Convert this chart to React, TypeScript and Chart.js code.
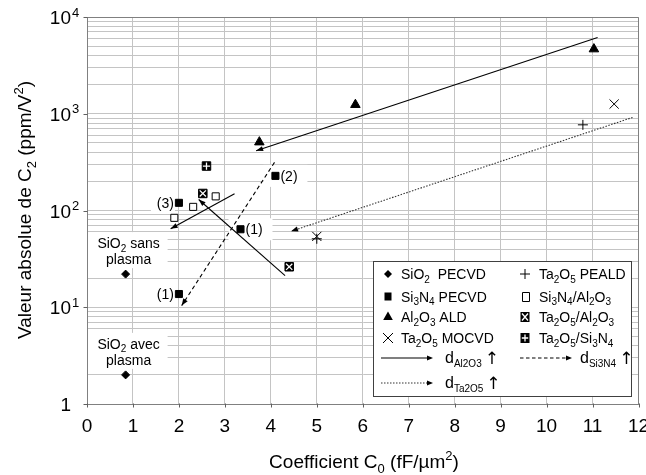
import React, { useEffect, useRef } from 'react';
import { Chart, registerables } from 'chart.js';

Chart.register(...registerables);

const FONT = '"Liberation Sans", Arial, Helvetica, "DejaVu Sans", sans-serif';

// ---- axis ticks ----
const xTicks = [0, 1, 2, 3, 4, 5, 6, 7, 8, 9, 10, 11, 12];
const yDecades = [1, 10, 100, 1000, 10000];
const yDecadeExp = ['', '1', '2', '3', '4'];
const yMinorMultipliers = [1, 2, 3, 4, 5, 6, 7, 8, 9];

// ---- series: C0 (fF/µm²) vs |C2| (ppm/V²) ----
const sio2PecvdC0 = [0.84, 0.84];
const sio2PecvdC2 = [22, 2.0];
const sio2Notes = [['SiO|2| sans', 'plasma'], ['SiO|2| avec', 'plasma']];

const si3n4PecvdC0 = [2.0, 2.0, 3.34, 4.1];
const si3n4PecvdC2 = [120, 13.7, 64, 228];
const si3n4Notes = ['(3)', '(1)', '(1)', '(2)'];
const si3n4NoteSide = ['left', 'left', 'right', 'right'];

const al2o3AldC0 = [3.75, 5.84, 11.03];
const al2o3AldC2 = [509, 1240, 4660];

const ta2o5MocvdC0 = [5.0, 11.47];
const ta2o5MocvdC2 = [54, 1260];

const ta2o5PealdC0 = [5.0, 10.79];
const ta2o5PealdC2 = [51, 768];

const si3n4Al2o3C0 = [1.9, 2.31, 2.8];
const si3n4Al2o3C2 = [84, 109, 140];

const ta2o5Al2o3C0 = [2.52, 4.4];
const ta2o5Al2o3C2 = [150, 26.2];

const ta2o5Si3n4C0 = [2.6];
const ta2o5Si3n4C2 = [288];

// ---- trend arrows (start -> tip) ----
const dAl2o3C0 = [[11.11, 3.68], [3.21, 1.82], [4.31, 2.43]];
const dAl2o3C2 = [[6140, 414], [149, 64.7], [21.2, 130]];
const dSi3n4C0 = [4.08, 2.06];
const dSi3n4C2 = [314, 10.4];
const dTa2o5C0 = [11.87, 4.44];
const dTa2o5C2 = [916, 61];

type Seg = { t: string; m: 'n' | 'b' | 'p'; s?: number };

// "A|2|B" -> odd pieces are subscripts
function parseSub(str: string): Seg[] {
  return str
    .split('|')
    .map((p, i) => ({ t: p, m: i % 2 === 1 ? 'b' : 'n' } as Seg))
    .filter((s) => s.t.length > 0);
}

function drawRich(ctx: CanvasRenderingContext2D, segs: Seg[], x: number, y: number, size: number, align: 'left' | 'center' | 'right') {
  const parts = segs.map((seg) => {
    const fs = seg.s ?? (seg.m === 'n' ? size : Math.round(size * 0.68));
    ctx.font = `${fs}px ${FONT}`;
    return { ...seg, fs, w: ctx.measureText(seg.t).width };
  });
  const total = parts.reduce((a, p) => a + p.w, 0);
  let cx = align === 'left' ? x : align === 'center' ? x - total / 2 : x - total;
  const start = cx;
  ctx.textAlign = 'left';
  ctx.textBaseline = 'alphabetic';
  for (const p of parts) {
    ctx.font = `${p.fs}px ${FONT}`;
    const dy = p.m === 'b' ? size * 0.25 : p.m === 'p' ? -size * 0.4 : 0;
    ctx.fillText(p.t, cx, y + dy);
    cx += p.w;
  }
  return { left: start, right: start + total, width: total };
}

function arrowHead(ctx: CanvasRenderingContext2D, x1: number, y1: number, x2: number, y2: number, len = 7, half = 2.6) {
  const a = Math.atan2(y2 - y1, x2 - x1);
  ctx.save();
  ctx.setLineDash([]);
  ctx.fillStyle = '#000';
  ctx.beginPath();
  ctx.moveTo(x2, y2);
  ctx.lineTo(x2 - len * Math.cos(a) + half * Math.sin(a), y2 - len * Math.sin(a) - half * Math.cos(a));
  ctx.lineTo(x2 - len * Math.cos(a) - half * Math.sin(a), y2 - len * Math.sin(a) + half * Math.cos(a));
  ctx.closePath();
  ctx.fill();
  ctx.restore();
}

const pts = (xs: number[], ys: number[]) => xs.map((x, i) => ({ x, y: ys[i] }));

function marker(ctx: CanvasRenderingContext2D, kind: string, x: number, y: number) {
  ctx.save();
  ctx.fillStyle = '#000';
  ctx.strokeStyle = '#000';
  ctx.lineWidth = 1;
  ctx.setLineDash([]);
  ctx.beginPath();
  if (kind === 'diamond') {
    ctx.moveTo(x - 4, y); ctx.lineTo(x, y - 4); ctx.lineTo(x + 4, y); ctx.lineTo(x, y + 4); ctx.closePath(); ctx.fill();
  } else if (kind === 'square') {
    ctx.fillRect(x - 3.5, y - 4, 7, 8);
  } else if (kind === 'open') {
    ctx.fillStyle = '#fff';
    ctx.rect(Math.round(x - 3.5) + 0.5, Math.round(y - 4.5) + 0.5, 7, 9); ctx.fill(); ctx.stroke();
  } else if (kind === 'triangle') {
    ctx.moveTo(x, y - 5.5); ctx.lineTo(x + 4.8, y + 3); ctx.lineTo(x - 4.8, y + 3); ctx.closePath(); ctx.fill();
  } else if (kind === 'plus') {
    ctx.moveTo(x - 5, y); ctx.lineTo(x + 5, y); ctx.moveTo(x, y - 5); ctx.lineTo(x, y + 5); ctx.stroke();
  } else if (kind === 'x') {
    ctx.moveTo(x - 5, y - 5); ctx.lineTo(x + 5, y + 5); ctx.moveTo(x + 5, y - 5); ctx.lineTo(x - 5, y + 5); ctx.stroke();
  } else if (kind === 'xbox' || kind === 'plusbox') {
    ctx.fillRect(x - 4.5, y - 5, 9, 10);
    ctx.strokeStyle = '#fff';
    ctx.lineWidth = 1.3;
    ctx.beginPath();
    if (kind === 'xbox') {
      ctx.moveTo(x - 3, y - 3.5); ctx.lineTo(x + 3, y + 3.5); ctx.moveTo(x + 3, y - 3.5); ctx.lineTo(x - 3, y + 3.5);
    } else {
      ctx.moveTo(x - 3.2, y); ctx.lineTo(x + 3.2, y); ctx.moveTo(x, y - 3.6); ctx.lineTo(x, y + 3.6);
    }
    ctx.stroke();
  }
  ctx.restore();
}

const legendCol1 = [
  { kind: 'diamond', label: 'SiO|2|  PECVD' },
  { kind: 'square', label: 'Si|3|N|4| PECVD' },
  { kind: 'triangle', label: 'Al|2|O|3| ALD' },
  { kind: 'x', label: 'Ta|2|O|5| MOCVD' },
];
const legendCol2 = [
  { kind: 'plus', label: 'Ta|2|O|5| PEALD' },
  { kind: 'open', label: 'Si|3|N|4|/Al|2|O|3|' },
  { kind: 'xbox', label: 'Ta|2|O|5|/Al|2|O|3|' },
  { kind: 'plusbox', label: 'Ta|2|O|5|/Si|3|N|4|' },
];

const overlayPlugin = {
  id: 'overlay',
  beforeDatasetsDraw(chart: any) {
    const ctx: CanvasRenderingContext2D = chart.ctx;
    const xs = chart.scales.x;
    const ys = chart.scales.y;
    ctx.save();
    ctx.fillStyle = '#fff';
    sio2PecvdC0.forEach((v, i) => {
      const px = xs.getPixelForValue(v);
      const py = ys.getPixelForValue(sio2PecvdC2[i]);
      ctx.fillRect(chart.chartArea.left + 1, py - 42, px + 42 - chart.chartArea.left - 1, 36);
    });
    si3n4PecvdC0.forEach((v, i) => {
      const px = xs.getPixelForValue(v);
      const py = ys.getPixelForValue(si3n4PecvdC2[i]);
      if (si3n4NoteSide[i] === 'right') ctx.fillRect(px - 12, py - 11, 44, 22);
      else ctx.fillRect(px - 28, py - 10, 24, 20);
    });
    ctx.restore();
  },
  afterDatasetsDraw(chart: any) {
    const ctx: CanvasRenderingContext2D = chart.ctx;
    const xs = chart.scales.x;
    const ys = chart.scales.y;
    chart.data.datasets.forEach((ds: any) => {
      if (!ds.isArrow) return;
      const a = ds.data[0];
      const b = ds.data[1];
      arrowHead(ctx, xs.getPixelForValue(a.x), ys.getPixelForValue(a.y), xs.getPixelForValue(b.x), ys.getPixelForValue(b.y));
    });
    ctx.save();
    ctx.fillStyle = '#000';
    sio2PecvdC0.forEach((v, i) => {
      const px = xs.getPixelForValue(v) + 3;
      const py = ys.getPixelForValue(sio2PecvdC2[i]);
      drawRich(ctx, parseSub(sio2Notes[i][0]), px, py - 26, 14, 'center');
      drawRich(ctx, parseSub(sio2Notes[i][1]), px, py - 10, 14, 'center');
    });
    si3n4PecvdC0.forEach((v, i) => {
      const px = xs.getPixelForValue(v);
      const py = ys.getPixelForValue(si3n4PecvdC2[i]);
      if (si3n4NoteSide[i] === 'right') drawRich(ctx, [{ t: si3n4Notes[i], m: 'n' }], px + 5, py + 5, 14, 'left');
      else drawRich(ctx, [{ t: si3n4Notes[i], m: 'n' }], px - 5, py + 5, 14, 'right');
    });
    ctx.restore();
  },
  afterDraw(chart: any) {
    const ctx: CanvasRenderingContext2D = chart.ctx;
    const xs = chart.scales.x;
    const ys = chart.scales.y;
    const ca = chart.chartArea;
    ctx.save();
    // top/right frame
    ctx.strokeStyle = '#808080';
    ctx.lineWidth = 1;
    ctx.beginPath();
    const t = Math.round(ca.top) + 0.5;
    const r = Math.round(ca.right) - 0.5;
    ctx.moveTo(Math.round(ca.left), t); ctx.lineTo(r, t); ctx.lineTo(r, Math.round(ca.bottom));
    ctx.stroke();
    // tick marks
    ctx.strokeStyle = '#606060';
    ctx.beginPath();
    const b = Math.round(ca.bottom) - 0.5;
    xTicks.forEach((v) => {
      const px = Math.round(xs.getPixelForValue(v)) + 0.5;
      ctx.moveTo(px, b); ctx.lineTo(px, b + 4);
    });
    const l = Math.round(ca.left) + 0.5;
    yDecades.forEach((v) => {
      const py = Math.round(ys.getPixelForValue(v)) + 0.5;
      ctx.moveTo(l - 4, py); ctx.lineTo(l, py);
    });
    ctx.stroke();
    // tick labels
    ctx.fillStyle = '#000';
    ctx.font = `19px ${FONT}`;
    ctx.textAlign = 'center';
    ctx.textBaseline = 'alphabetic';
    xTicks.forEach((v) => {
      ctx.fillText(String(v), xs.getPixelForValue(v), ca.bottom + 28);
    });
    yDecades.forEach((v, i) => {
      const py = ys.getPixelForValue(v);
      ctx.font = `19px ${FONT}`;
      ctx.textAlign = 'right';
      if (yDecadeExp[i] === '') {
        ctx.fillText('1', 71, py + 7);
      } else {
        ctx.fillText('10', 71, py + 7);
        ctx.font = `13px ${FONT}`;
        ctx.textAlign = 'left';
        ctx.fillText(yDecadeExp[i], 72, py - 0.5);
      }
    });
    // axis titles
    drawRich(ctx, [{ t: 'Coefficient C', m: 'n' }, { t: '0', m: 'b' }, { t: ' (fF/µm', m: 'n' }, { t: '2', m: 'p' }, { t: ')', m: 'n' }], 364, 468, 19, 'center');
    ctx.save();
    ctx.translate(24, 210);
    ctx.rotate(-Math.PI / 2);
    drawRich(ctx, [{ t: 'Valeur absolue de C', m: 'n' }, { t: '2', m: 'b' }, { t: ' (ppm/V', m: 'n' }, { t: '2', m: 'p' }, { t: ')', m: 'n' }], 0, 7, 19, 'center');
    ctx.restore();

    // legend
    const L = 373.5, T = 261.5, W = 258, H = 135;
    ctx.fillStyle = '#fff';
    ctx.fillRect(L, T, W, H);
    ctx.strokeStyle = '#404040';
    ctx.lineWidth = 1;
    ctx.strokeRect(L, T, W, H);
    const rows = [274, 296.5, 317, 338, 358, 383];
    legendCol1.forEach((it, i) => {
      marker(ctx, it.kind, 388, rows[i]);
      ctx.fillStyle = '#000';
      drawRich(ctx, parseSub(it.label), 401, rows[i] + 5, 14, 'left');
    });
    legendCol2.forEach((it, i) => {
      marker(ctx, it.kind, 525, rows[i]);
      ctx.fillStyle = '#000';
      drawRich(ctx, parseSub(it.label), 539, rows[i] + 5, 14, 'left');
    });
    const legLine = (x1: number, x2: number, y: number, dash: number[], color: string) => {
      ctx.save();
      ctx.strokeStyle = color;
      ctx.lineWidth = 1.1;
      ctx.setLineDash(dash);
      ctx.beginPath();
      ctx.moveTo(x1, y); ctx.lineTo(x2 - 4, y); ctx.stroke();
      ctx.restore();
      arrowHead(ctx, x1, y, x2, y, 6, 2.4);
    };
    const dLabel = (x: number, y: number, sub: string) => {
      ctx.fillStyle = '#000';
      const r1 = drawRich(ctx, [{ t: 'd', m: 'n', s: 16 }, { t: sub, m: 'b', s: 10 }], x, y + 5, 16, 'left');
      ctx.font = `17px "DejaVu Sans", ${FONT}`;
      ctx.textAlign = 'left';
      ctx.fillText('\u2191', r1.right + 3, y + 6);
    };
    legLine(381, 433, rows[4], [], '#000');
    dLabel(445, rows[4], 'Al2O3');
    legLine(381, 433, rows[5], [1.5, 1.5], '#333');
    dLabel(445, rows[5], 'Ta2O5');
    legLine(520, 572, rows[4], [3.5, 2.5], '#000');
    dLabel(580, rows[4], 'Si3N4');
    ctx.restore();
  },
};

export default function App() {
  const ref = useRef<HTMLCanvasElement | null>(null);
  useEffect(() => {
    if (!ref.current) return;
    const yGrid = yDecades.flatMap((d) => yMinorMultipliers.map((m) => m * d)).filter((v) => v <= 10000);
    const lineDs = (xs: number[], ys: number[], dash: number[], color: string, label: string) => ({
      label,
      data: pts(xs, ys),
      showLine: true,
      borderColor: color,
      borderWidth: 1.1,
      borderDash: dash,
      pointRadius: 0,
      fill: false,
      order: 5,
      isArrow: true,
    });
    const pointDs = (label: string, xs: number[], ys: number[], style: string, radius: number, bg: string, border: string, bw: number, order = 1) => ({
      label,
      data: pts(xs, ys),
      showLine: false,
      pointStyle: style,
      pointRadius: radius,
      pointBackgroundColor: bg,
      pointBorderColor: border,
      pointBorderWidth: bw,
      order,
    });
    const chart = new Chart(ref.current, {
      type: 'scatter',
      data: {
        datasets: [
          ...dAl2o3C0.map((xs, i) => lineDs(xs, dAl2o3C2[i], [], '#000', 'd_Al2O3')),
          lineDs(dSi3n4C0, dSi3n4C2, [4, 3], '#000', 'd_Si3N4'),
          lineDs(dTa2o5C0, dTa2o5C2, [1.5, 1.5], '#333', 'd_Ta2O5'),
          pointDs('SiO2 PECVD', sio2PecvdC0, sio2PecvdC2, 'rectRot', 4, '#000', '#000', 1),
          pointDs('Si3N4 PECVD', si3n4PecvdC0, si3n4PecvdC2, 'rect', 5, '#000', '#000', 1),
          pointDs('Al2O3 ALD', al2o3AldC0, al2o3AldC2, 'triangle', 5.5, '#000', '#000', 1),
          pointDs('Ta2O5 MOCVD', ta2o5MocvdC0, ta2o5MocvdC2, 'crossRot', 6.5, '#000', '#000', 1),
          pointDs('Ta2O5 PEALD', ta2o5PealdC0, ta2o5PealdC2, 'cross', 5, '#000', '#000', 1),
          pointDs('Si3N4/Al2O3', si3n4Al2o3C0, si3n4Al2o3C2, 'rect', 5, '#fff', '#000', 1),
          pointDs('Ta2O5/Al2O3', ta2o5Al2o3C0, ta2o5Al2o3C2, 'rect', 6, '#000', '#000', 1, 2),
          pointDs('Ta2O5/Al2O3 mark', ta2o5Al2o3C0, ta2o5Al2o3C2, 'crossRot', 4.4, '#fff', '#fff', 1.3, 0),
          pointDs('Ta2O5/Si3N4', ta2o5Si3n4C0, ta2o5Si3n4C2, 'rect', 6, '#000', '#000', 1, 2),
          pointDs('Ta2O5/Si3N4 mark', ta2o5Si3n4C0, ta2o5Si3n4C2, 'cross', 3.6, '#fff', '#fff', 1.3, 0),
        ] as any,
      },
      options: {
        animation: false,
        responsive: false,
        devicePixelRatio: 1,
        events: [],
        layout: { padding: { left: 87, right: 5, top: 17, bottom: 71 } },
        plugins: { legend: { display: false }, tooltip: { enabled: false } },
        scales: {
          x: {
            type: 'linear',
            min: 0,
            max: 12,
            ticks: { display: false },
            grid: { color: '#c4c4c4', lineWidth: 1, drawTicks: false },
            border: { display: true, color: '#808080', width: 1 },
            afterBuildTicks: (s: any) => { s.ticks = xTicks.map((v) => ({ value: v })); },
          },
          y: {
            type: 'logarithmic',
            min: 1,
            max: 10000,
            ticks: { display: false },
            grid: { color: '#c4c4c4', lineWidth: 1, drawTicks: false },
            border: { display: true, color: '#808080', width: 1 },
            afterBuildTicks: (s: any) => { s.ticks = yGrid.map((v) => ({ value: v })); },
          },
        },
      } as any,
      plugins: [overlayPlugin],
    });
    return () => chart.destroy();
  }, []);
  return (
    <div style={{ position: 'fixed', left: 0, top: 0, width: 646, height: 475, background: '#fff' }}>
      <canvas ref={ref} width={646} height={475} style={{ display: 'block', width: 646, height: 475 }} />
    </div>
  );
}
